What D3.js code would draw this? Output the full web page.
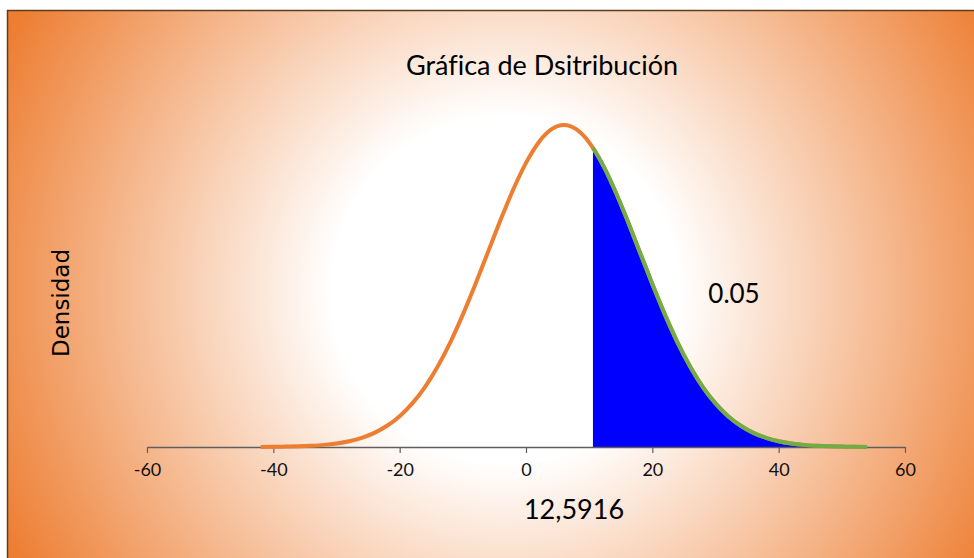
<!DOCTYPE html>
<html>
<head>
<meta charset="utf-8">
<script src="https://cdn.jsdelivr.net/npm/d3@7"></script>
<style>
body { margin: 0; background: #fff; }
svg { display: block; }
text { font-variant-ligatures: none; font-kerning: normal; }
</style>
</head>
<body>
<svg width="974" height="558"></svg>
<script>
// values
var xValues = [-42, -40, -38, -36, -34, -32, -30, -28, -26, -24, -22, -20, -18, -16, -14, -12, -10, -8, -6, -4, -2,
  0, 2, 4, 6, 8, 10, 12, 14, 16, 18, 20, 22, 24, 26, 28, 30, 32, 34, 36, 38, 40, 42, 44, 46, 48, 50, 52, 54];
var density = [0.00001, 0.00002, 0.00004, 0.00007, 0.00013, 0.00022, 0.00037, 0.00060, 0.00095, 0.00146, 0.00219,
  0.00318, 0.00450, 0.00619, 0.00829, 0.01079, 0.01367, 0.01683, 0.02016, 0.02349, 0.02662, 0.02934, 0.03145,
  0.03279, 0.03325, 0.03279, 0.03145, 0.02934, 0.02662, 0.02349, 0.02016, 0.01683, 0.01367, 0.01079, 0.00829,
  0.00619, 0.00450, 0.00318, 0.00219, 0.00146, 0.00095, 0.00060, 0.00037, 0.00022, 0.00013, 0.00007, 0.00004,
  0.00002, 0.00001];
var cutX = 10.6;
var cutDensity = 0.0309;
var xTicks = [-60, -40, -20, 0, 20, 40, 60];

var chartTitle = "Gráfica de Dsitribución";
var yTitle = "Densidad";
var tailLabel = "0.05";
var xTitle = "12,5916";

var svg = d3.select("svg");

var points = xValues.map(function(x, i) {return {x: x, y: density[i]};});
var tail = [{x: cutX, y: cutDensity}].concat(points.filter(function(d) {return d.x > cutX;}));

var x = d3.scaleLinear().domain([-60, 60]).range([147, 905]);
var y = d3.scaleLinear().domain([0, 0.03325]).range([447, 125]);

// background
var grad = svg.append("defs").append("radialGradient")
  .attr("id", "bg")
  .attr("gradientUnits", "userSpaceOnUse")
  .attr("cx", 505).attr("cy", 290).attr("r", 560);
grad.append("stop").attr("offset", "0%").attr("stop-color", "#ffffff");
grad.append("stop").attr("offset", "31%").attr("stop-color", "#ffffff");
grad.append("stop").attr("offset", "100%").attr("stop-color", "#ed7d31");

svg.append("rect")
  .attr("x", 7.5).attr("y", 10.5)
  .attr("width", 980).attr("height", 560)
  .attr("fill", "url(#bg)")
  .attr("stroke", "#5e3c1c")
  .attr("stroke-width", 1.5);

// shaded tail
svg.append("path")
  .datum(tail)
  .attr("fill", "#0000ff")
  .attr("d", d3.area()
    .x(function(d) {return x(d.x);})
    .y0(y(0))
    .y1(function(d) {return y(d.y);})
    .curve(d3.curveMonotoneX));

// axis
var axis = svg.append("g")
  .attr("transform", "translate(0," + y(0) + ")")
  .call(d3.axisBottom(x)
    .tickValues(xTicks)
    .tickFormat(function(d) {return String(d);})
    .tickSize(6).tickSizeOuter(0).tickPadding(10));
axis.select(".domain").attr("stroke", "#5f5f5f").attr("stroke-width", 1.5);
axis.selectAll(".tick line").attr("stroke", "#5f5f5f").attr("stroke-width", 1.2);
axis.selectAll(".tick text")
  .attr("fill", "#111")
  .style("font-family", "Lato, 'Open Sans', sans-serif")
  .style("font-size", "18px");

var line = d3.line()
  .x(function(d) {return x(d.x);})
  .y(function(d) {return y(d.y);})
  .curve(d3.curveMonotoneX);

svg.append("path")
  .datum(points)
  .attr("fill", "none")
  .attr("stroke", "#ed7d31")
  .attr("stroke-width", 4)
  .attr("d", line);

svg.append("path")
  .datum(tail)
  .attr("fill", "none")
  .attr("stroke", "#70ad47")
  .attr("stroke-width", 4)
  .attr("d", line);

// texts
svg.append("text")
  .attr("x", 542).attr("y", 75)
  .attr("text-anchor", "middle")
  .style("font-family", "Lato, 'Open Sans', sans-serif")
  .style("font-size", "27px")
  .text(chartTitle);

svg.append("text")
  .attr("transform", "translate(69,303) rotate(-90)")
  .attr("text-anchor", "middle")
  .style("font-family", "'DejaVu Sans', sans-serif")
  .style("font-size", "23px")
  .text(yTitle);

svg.append("text")
  .attr("x", 734).attr("y", 303)
  .attr("text-anchor", "middle")
  .style("font-family", "Lato, 'Open Sans', sans-serif")
  .style("font-size", "26px")
  .text(tailLabel);

svg.append("text")
  .attr("x", 574).attr("y", 519)
  .attr("text-anchor", "middle")
  .style("font-family", "Lato, 'Open Sans', sans-serif")
  .style("font-size", "27px")
  .text(xTitle);
</script>
</body>
</html>
